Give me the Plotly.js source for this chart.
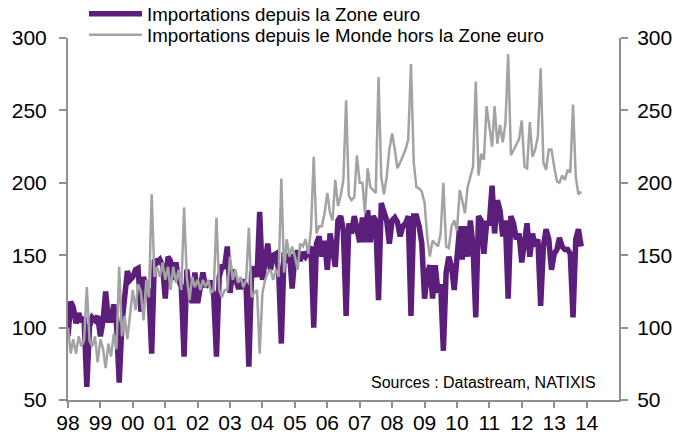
<!DOCTYPE html>
<html>
<head>
<meta charset="utf-8">
<script src="https://cdn.plot.ly/plotly-3.0.1.min.js"></script>
<style>
html,body{margin:0;padding:0;background:#ffffff;}
#chart{width:692px;height:436px;}
</style>
</head>
<body>
<div id="chart"></div>
<script>
// Monthly series, January 1998 to November 2013
const firstYear = 1998;

const zoneEuro = [
  94,118,114,103,110,104,107, 59,101,107,105,108,   // 1998
  94,105,125,105,105,116,103, 62,103,119,139,133,   // 1999
 135,140,141,111,135,128,125, 82,147,145,147,143,   // 2000
 120,149,146,133,145,133,128, 80,140,125,117,138,   // 2001
 117,128,138,128,131,131,122, 80,135,142,142,156,   // 2002
 124,140,135,128,128,133,128, 73,138,142,135,180,   // 2003
 133,145,158,140,150,151,140, 89,152,145,151,127,   // 2004
 150,153,146,152,149,152,156,100,158,163,149,160,   // 2005
 140,165,153,142,174,177,167,108,172,165,177,170,   // 2006
 159,176,159,181,159,177,174,119,186,180,174,158,   // 2007
 174,176,173,163,170,172,177,108,177,177,170,158,   // 2008
 120,137,143,120,143,124,130, 84,138,149,142,126,   // 2009
 149,170,147,170,149,174,156,107,177,174,151,172,   // 2010
 172,198,165,188,181,163,174,120,177,172,161,165,   // 2011
 145,163,172,149,165,156,161,115,156,168,161,140,   // 2012
 151,154,162,156,154,154,151,107,161,168,156        // 2013
];

const horsZoneEuro = [
 100, 82, 92, 82, 94, 87, 91,128, 91, 87, 94, 76,   // 1998
  92, 85, 72, 89, 80, 96, 85,142, 94,108, 92,108,   // 1999
 126,112,130,125,105,133,121,192,135,142,135,145,   // 2000
 133,142,126,142,131,140,126,183,135,119,135,128,   // 2001
 133,126,133,128,133,124,126,176,126,121,126,126,   // 2002
 149,133,140,131,135,128,133,169,121,124,126, 82,   // 2003
 124,133,138,140,133,140,135,203,138,161,149,156,   // 2004
 149,140,158,156,161,151,168,218,165,170,170,179,   // 2005
 193,179,174,202,184,191,202,257,191,188,190,219,   // 2006
 200,200,179,210,197,195,193,273,204,192,204,223,   // 2007
 234,223,210,214,218,223,230,282,214,197,196,194,   // 2008
 186,162,149,160,158,156,165,200,156,155,170,174,   // 2009
 167,195,188,179,197,204,211,270,205,220,216,253,   // 2010
 237,225,253,227,240,228,241,289,219,223,227,230,   // 2011
 243,211,210,242,218,223,232,279,214,209,223,223,   // 2012
 211,201,200,205,202,209,207,254,204,192,194        // 2013
];

const yearTickLabels = ['98','99','00','01','02','03','04','05','06','07','08','09','10','11','12','13','14'];
const seriesNames = ['Importations depuis la Zone euro', 'Importations depuis le Monde hors la Zone euro'];
const sourceText = 'Sources : Datastream, NATIXIS';

// month categories
const months = zoneEuro.map((_, i) => {
  const y = firstYear + Math.floor(i / 12);
  const m = (i % 12) + 1;
  return y + '-' + (m < 10 ? '0' + m : m) + '-01';
});
const tickVals = yearTickLabels.map((_, i) => (firstYear + i) + '-01-01');

const FONT = 'Liberation Sans, Arial, Helvetica, sans-serif';
const AXIS_COL = '#8f8f8f';

const traces = [
  {
    x: months, y: zoneEuro, type: 'scatter', mode: 'lines',
    name: seriesNames[0],
    line: {color: '#5b1f7b', width: 5.5},
    legend: 'legend',
    hoverinfo: 'skip'
  },
  {
    x: months, y: horsZoneEuro, type: 'scatter', mode: 'lines',
    name: seriesNames[1],
    line: {color: '#a3a3a3', width: 2.5},
    legend: 'legend2',
    hoverinfo: 'skip'
  }
];

const yCommon = {
  range: [50, 300], dtick: 50, tick0: 50,
  showline: true, linecolor: AXIS_COL, linewidth: 2,
  ticks: 'outside', ticklen: 7, tickwidth: 2, tickcolor: AXIS_COL,
  showgrid: false, zeroline: false,
  tickfont: {family: FONT, size: 21, color: '#000'},
  fixedrange: true
};

const layout = {
  width: 692, height: 436,
  margin: {l: 68, r: 73, t: 38, b: 36, pad: 0, autoexpand: false},
  paper_bgcolor: '#ffffff', plot_bgcolor: '#ffffff',
  font: {family: FONT, color: '#000'},
  showlegend: true,
  xaxis: {
    type: 'date',
    range: [firstYear + '-01-01', (firstYear + 17) + '-01-01'],
    tickmode: 'array', tickvals: tickVals, ticktext: yearTickLabels,
    showline: true, linecolor: AXIS_COL, linewidth: 2,
    ticks: 'outside', ticklen: 6, tickwidth: 2, tickcolor: AXIS_COL,
    showgrid: false, zeroline: false,
    tickfont: {family: FONT, size: 21, color: '#000'},
    ticklabelstandoff: -3,
    fixedrange: true
  },
  yaxis: Object.assign({}, yCommon, {side: 'left', ticklabelstandoff: 8}),
  yaxis2: Object.assign({}, yCommon, {side: 'right', overlaying: 'y', anchor: 'x', ticklabelstandoff: 5}),
  legend: {
    x: 0.029, y: 1.0663, xanchor: 'left', yanchor: 'middle',
    bgcolor: 'rgba(0,0,0,0)', borderwidth: 0,
    font: {family: FONT, size: 18.7, color: '#000'},
    itemwidth: 53
  },
  legend2: {
    x: 0.029, y: 1.0083, xanchor: 'left', yanchor: 'middle',
    bgcolor: 'rgba(0,0,0,0)', borderwidth: 0,
    font: {family: FONT, size: 18.7, color: '#000'},
    itemwidth: 53
  },
  annotations: [{
    text: sourceText, xref: 'paper', yref: 'paper',
    x: 0.962, y: 0.0497, xanchor: 'right', yanchor: 'middle',
    showarrow: false, font: {family: FONT, size: 16, color: '#000'}
  }]
};

// invisible trace so the right axis is drawn
traces.push({x: [months[0]], y: [null], yaxis: 'y2', type: 'scatter', mode: 'lines', showlegend: false, hoverinfo: 'skip'});

Plotly.newPlot('chart', traces, layout, {displayModeBar: false, staticPlot: true});
</script>
</body>
</html>
